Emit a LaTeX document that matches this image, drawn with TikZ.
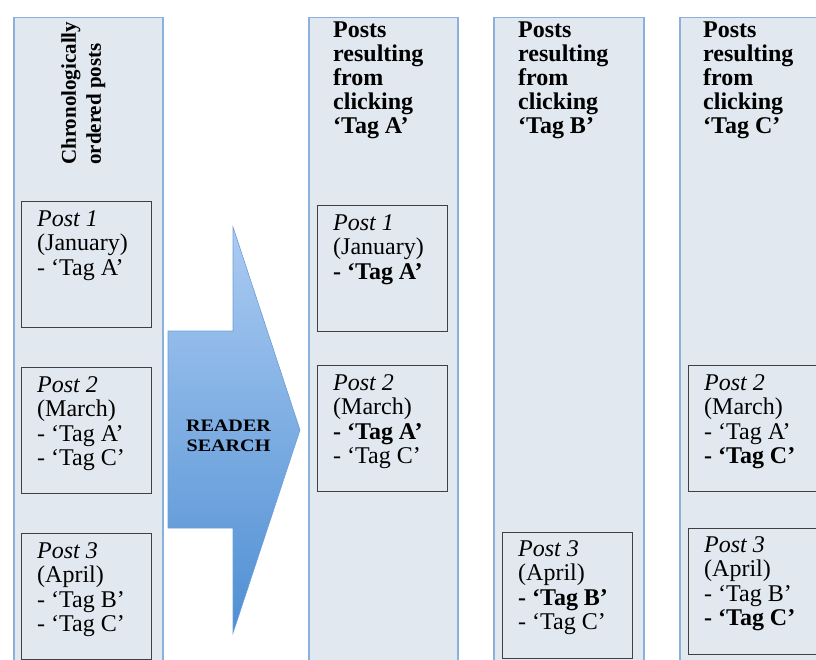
\documentclass[tikz,border=0pt]{standalone}
\usepackage{fontspec}
\setmainfont{Liberation Serif}
\newfontfamily\widefont[FakeStretch=1.15]{Liberation Serif}
\usetikzlibrary{positioning}

\definecolor{colfill}{HTML}{E1E8EF}
\definecolor{colline}{HTML}{8CB0DC}
\definecolor{boxline}{HTML}{404040}
\definecolor{arrowtop}{HTML}{ABCBF2}
\definecolor{arrowbot}{HTML}{4F8FD3}
\definecolor{arrowline}{HTML}{6B9ED8}

\begin{document}
\begin{tikzpicture}[
    x=1pt, y=-1pt,
    column/.style={rectangle,draw=colline,fill=colfill,line width=1.5pt,anchor=north west,
        minimum width=149pt,minimum height=700pt,inner sep=0pt},
    post/.style={rectangle,draw=boxline,line width=1.2pt,anchor=north west,
        minimum width=130pt,minimum height=126pt,inner sep=0pt},
    posttext/.style={anchor=north west,align=left,inner sep=0pt,
        font=\fontsize{24}{24.5}\selectfont,execute at begin node=\strut},
    header/.style={anchor=north west,align=left,inner sep=0pt,
        font=\fontsize{24}{24}\selectfont\bfseries,execute at begin node=\strut}
]
\useasboundingbox (0,0) rectangle (816,660);
\clip (0,0) rectangle (816,660);

% columns
\node[column] (colA) at (13,17) {};
\node[column] (colB) at (308,17) {};
\node[column,minimum width=150pt] (colC) at (493,17) {};
\node[column] (colD) at (679,17) {};

% column headings (strut top = baseline - 17pt)
\node[header,font=\fontsize{21}{25}\selectfont\bfseries,rotate=90] (headA) at (61,165) {Chronologically\\ordered posts};
\node[header] (headB) at ([xshift=25pt,yshift=-5pt]colB.north west) {Posts\\resulting\\from\\clicking\\‘Tag A’};
\node[header] (headC) at ([xshift=25pt,yshift=-5pt]colC.north west) {Posts\\resulting\\from\\clicking\\‘Tag B’};
\node[header] (headD) at ([xshift=24pt,yshift=-5pt]colD.north west) {Posts\\resulting\\from\\clicking\\‘Tag C’};

% all posts in order
\node[post] (a1) at (21,201) {};
\node[post] (a2) at (21,367) {};
\node[post] (a3) at (21,533) {};
\node[posttext] (ta1) at ([xshift=16pt,yshift=-9pt]a1.north west) {\textit{Post 1}\\(January)\\- ‘Tag A’};
\node[posttext] (ta2) at ([xshift=16pt,yshift=-9pt]a2.north west) {\textit{Post 2}\\(March)\\- ‘Tag A’\\- ‘Tag C’};
\node[posttext] (ta3) at ([xshift=16pt,yshift=-9pt]a3.north west) {\textit{Post 3}\\(April)\\- ‘Tag B’\\- ‘Tag C’};

% reader search arrow
\draw[arrowline,line width=0.6pt,top color=arrowtop,bottom color=arrowbot]
    (168,331) -- (233,331) -- (233,227) -- (300,430) -- (233,633) -- (233,528) -- (168,528) -- cycle;
\node[anchor=north,align=center,inner sep=0pt,execute at begin node=\strut,
    font=\widefont\fontsize{17.5}{20}\selectfont\bfseries] (search) at (228.5,420) {READER\\SEARCH};

% tag A
\node[post] (b1) at (317,205) {};
\node[post] (b2) at (317,365) {};
\node[posttext] (tb1) at ([xshift=16pt,yshift=-9pt]b1.north west) {\textit{Post 1}\\(January)\\\textbf{- ‘Tag A’}};
\node[posttext] (tb2) at ([xshift=16pt,yshift=-9pt]b2.north west) {\textit{Post 2}\\(March)\\\textbf{- ‘Tag A’}\\- ‘Tag C’};

% tag B
\node[post] (c3) at (502,532) {};
\node[posttext] (tc3) at ([xshift=16pt,yshift=-8pt]c3.north west) {\textit{Post 3}\\(April)\\\textbf{- ‘Tag B’}\\- ‘Tag C’};

% tag C
\node[post] (d2) at (688,365) {};
\node[post] (d3) at (688,528) {};
\node[posttext] (td2) at ([xshift=16pt,yshift=-9pt]d2.north west) {\textit{Post 2}\\(March)\\- ‘Tag A’\\\textbf{- ‘Tag C’}};
\node[posttext] (td3) at ([xshift=16pt,yshift=-8pt]d3.north west) {\textit{Post 3}\\(April)\\- ‘Tag B’\\\textbf{- ‘Tag C’}};

\end{tikzpicture}
\end{document}
